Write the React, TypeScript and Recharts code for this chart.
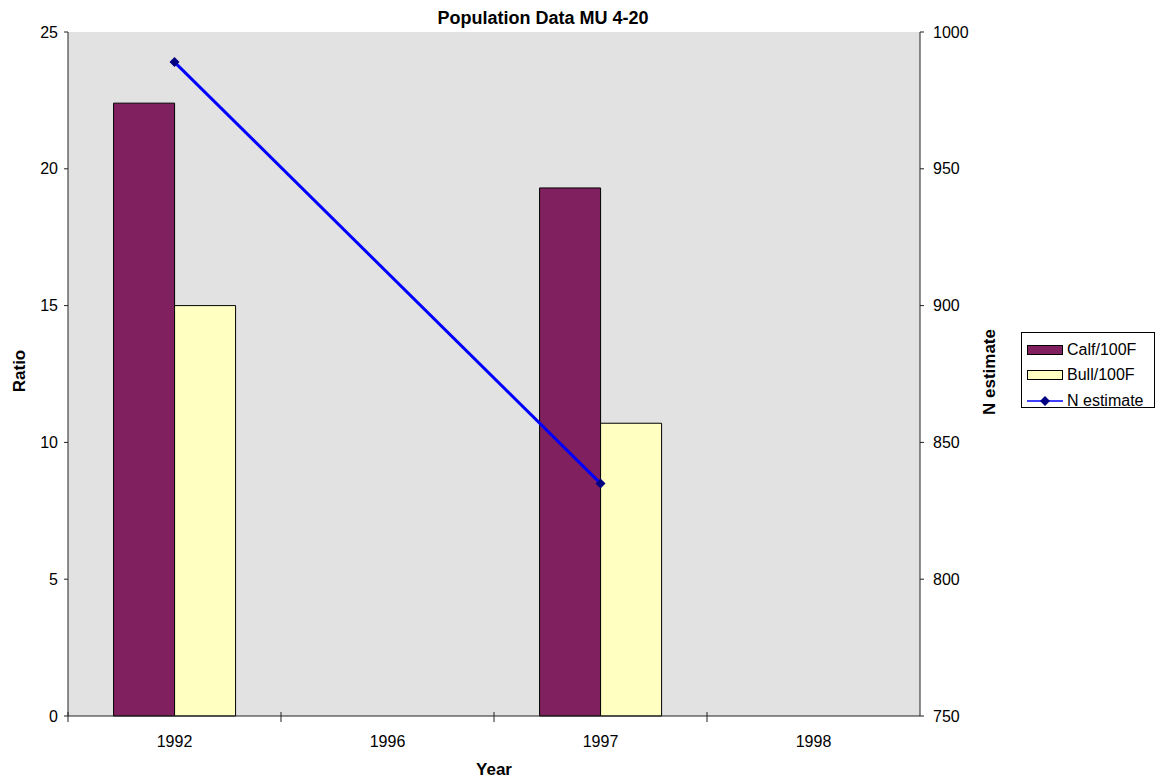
import React from "react";
import {
  ComposedChart, Bar, Line, XAxis, YAxis, CartesianGrid, Legend,
} from "recharts";

// values
const years = ["1992", "1996", "1997", "1998"];
const calfPer100F = [22.4, null, 19.3, null];
const bullPer100F = [15, null, 10.7, null];
const nEstimate = [989, null, 835, null];
const ratioTicks = [0, 5, 10, 15, 20, 25];
const nTicks = [750, 800, 850, 900, 950, 1000];
const seriesNames = ["Calf/100F", "Bull/100F", "N estimate"];

const data = years.map((year, i) => ({
  year,
  calf: calfPer100F[i],
  bull: bullPer100F[i],
  n: nEstimate[i],
}));

const FONT = "'Liberation Sans', Arial, sans-serif";
const W = 1161;
const H = 783;
const PLOT_W = 852; // width of the plot area, used for the between-category tick marks
const AXIS = "#222";

const YearTick = (props: any) => {
  const { x, y, payload } = props;
  const half = payload?.offset || PLOT_W / years.length / 2;
  return (
    <g>
      <line x1={x - half} x2={x - half} y1={y - 4} y2={y + 6} stroke={AXIS} />
      <text x={x} y={y + 31} textAnchor="middle" fontSize={16} fontFamily={FONT} fill="#000">
        {payload.value}
      </text>
    </g>
  );
};

const RotatedTitle = (props: any) => {
  const { viewBox, text, dx, dy = 0 } = props;
  const x = viewBox.x + dx;
  const y = viewBox.y + viewBox.height / 2 + dy;
  return (
    <text
      x={x}
      y={y}
      transform={`rotate(-90 ${x} ${y})`}
      textAnchor="middle"
      fontSize={17}
      fontWeight="bold"
      fontFamily={FONT}
      fill="#000"
    >
      {text}
    </text>
  );
};

const YearTitle = (props: any) => {
  const { viewBox } = props;
  return (
    <text
      x={viewBox.x + viewBox.width / 2}
      y={viewBox.y + 59}
      textAnchor="middle"
      fontSize={17}
      fontWeight="bold"
      fontFamily={FONT}
      fill="#000"
    >
      Year
    </text>
  );
};

const Diamond = (props: any) => {
  const { cx, cy } = props;
  if (cx == null || cy == null) return <g />;
  const r = 5;
  return (
    <polygon
      points={`${cx},${cy - r} ${cx + r},${cy} ${cx},${cy + r} ${cx - r},${cy}`}
      fill="#000080"
    />
  );
};

const LegendBox = (props: any) => {
  const { payload = [] } = props;
  const items = [...payload].sort(
    (a: any, b: any) => seriesNames.indexOf(a.value) - seriesNames.indexOf(b.value),
  );
  return (
    <div
      style={{
        border: "1px solid #000",
        background: "#fff",
        boxSizing: "border-box",
        width: 134,
        height: 76,
        padding: "4px 0 0 5px",
        fontFamily: FONT,
        fontSize: 16,
        color: "#000",
      }}
    >
      {items.map((entry: any) => (
        <div key={entry.value} style={{ display: "flex", alignItems: "center", height: 25.5 }}>
          {entry.type === "line" ? (
            <svg width={36} height={12} style={{ display: "block" }}>
              <line x1={0} x2={36} y1={6} y2={6} stroke={entry.color} strokeWidth={1.5} />
              <polygon points="18,1 23,6 18,11 13,6" fill="#000080" />
            </svg>
          ) : (
            <div
              style={{
                width: 36,
                height: 10,
                boxSizing: "border-box",
                border: "1px solid #000",
                background: entry.color,
              }}
            />
          )}
          <span style={{ marginLeft: 4, lineHeight: "16px" }}>{entry.value}</span>
        </div>
      ))}
    </div>
  );
};

export default function App() {
  return (
    <div style={{ position: "absolute", left: 0, top: 0, width: W, height: H, background: "#fff", fontFamily: FONT }}>
      <ComposedChart
        width={W}
        height={H}
        data={data}
        margin={{ top: 32, right: 161, bottom: 0, left: 0 }}
        barCategoryGap="21.4%"
        barGap={0}
      >
        <text x={543} y={24} textAnchor="middle" fontSize={18} fontWeight="bold" fontFamily={FONT} fill="#000">
          Population Data MU 4-20
        </text>
        <CartesianGrid fill="#E2E2E2" horizontal={false} vertical={false} />
        <XAxis
          dataKey="year"
          height={67}
          stroke={AXIS}
          tickLine={false}
          tickSize={0}
          tickMargin={0}
          tick={<YearTick />}
          interval={0}
          label={<YearTitle />}
        />
        <YAxis
          yAxisId="left"
          width={68}
          domain={[0, 25]}
          ticks={ratioTicks}
          stroke={AXIS}
          tickSize={4}
          tickMargin={6}
          tick={{ fill: "#000", fontSize: 16, fontFamily: FONT }}
          label={<RotatedTitle text="Ratio" dx={25} dy={-3} />}
        />
        <YAxis
          yAxisId="right"
          orientation="right"
          width={80}
          domain={[750, 1000]}
          ticks={nTicks}
          stroke={AXIS}
          tickSize={4}
          tickMargin={9}
          tick={{ fill: "#000", fontSize: 16, fontFamily: FONT }}
          label={<RotatedTitle text="N estimate" dx={75} dy={-2} />}
        />
        <Legend
          layout="vertical"
          align="center"
          verticalAlign="middle"
          content={<LegendBox />}
          wrapperStyle={{ left: 1021, top: 332, width: 134, height: 76 }}
        />
        <Bar
          yAxisId="left"
          dataKey="calf"
          name="Calf/100F"
          fill="#80205E"
          stroke="#000"
          strokeWidth={1}
          isAnimationActive={false}
        />
        <Bar
          yAxisId="left"
          dataKey="bull"
          name="Bull/100F"
          fill="#FFFFC2"
          stroke="#000"
          strokeWidth={1}
          isAnimationActive={false}
        />
        <Line
          yAxisId="right"
          dataKey="n"
          name="N estimate"
          type="linear"
          stroke="#0000FF"
          strokeWidth={3}
          connectNulls
          dot={<Diamond />}
          activeDot={false}
          legendType="line"
          isAnimationActive={false}
        />
      </ComposedChart>
    </div>
  );
}
